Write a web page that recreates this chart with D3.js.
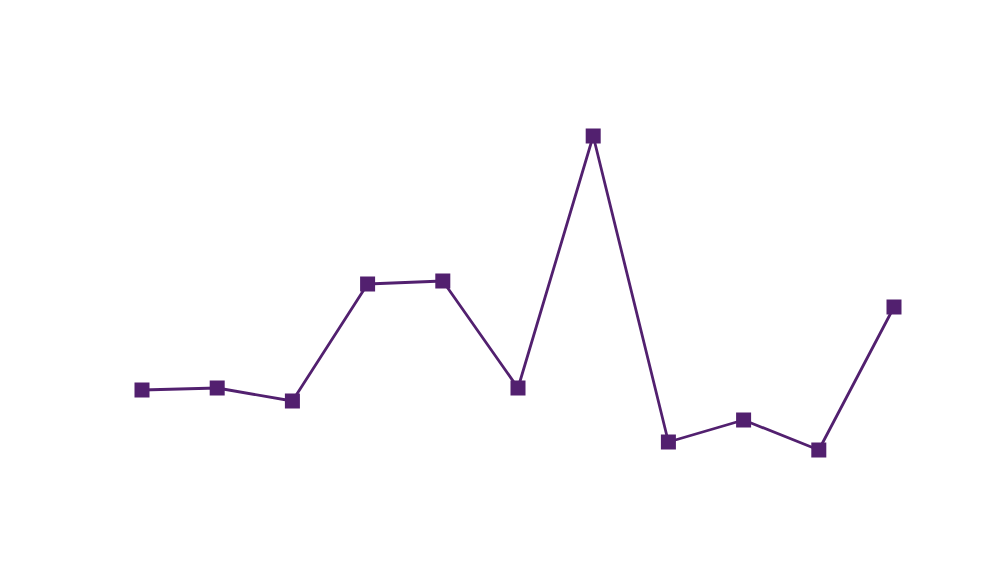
<!DOCTYPE html>
<html>
<head>
<meta charset="utf-8">
<script src="https://cdn.jsdelivr.net/npm/d3@7"></script>
<style>
    html, body { margin: 0; padding: 0; background: #ffffff; }
</style>
</head>
<body>
<div id="chart"></div>
<script>
'use strict';

// categories and series values
var categories = ['1', '2', '3', '4', '5', '6', '7', '8', '9', '10', '11'];
var values     = [27.5, 28, 24.75, 54, 54.75, 28, 91, 14.5, 20, 12.5, 48.25];

var width  = 991;
var height = 563;
var margins = {top: 100, bottom: 63, left: 142, right: 97};
var lineColor = '#52206f';

var svg = d3.select('#chart').append('svg')
    .attr('width', width)
    .attr('height', height);

var xScale = d3.scalePoint()
    .domain(categories)
    .range([margins.left, width - margins.right]);

var yScale = d3.scaleLinear()
    .domain([0, 100])
    .range([height - margins.bottom, margins.top]);

var data = categories.map(function(c, i){ return {cat: c, val: values[i]}; });

var line = d3.line()
    .x(function(d){ return xScale(d.cat); })
    .y(function(d){ return yScale(d.val); });

svg.append('path')
    .datum(data)
    .attr('fill', 'none')
    .attr('stroke', lineColor)
    .attr('stroke-width', 2.8)
    .attr('stroke-linejoin', 'round')
    .attr('d', line);

var size = 15;
svg.selectAll('rect.marker')
    .data(data)
    .enter()
    .append('rect')
    .attr('class', 'marker')
    .attr('x', function(d){ return xScale(d.cat) - size / 2; })
    .attr('y', function(d){ return yScale(d.val) - size / 2; })
    .attr('width', size)
    .attr('height', size)
    .attr('fill', lineColor);
</script>
</body>
</html>
